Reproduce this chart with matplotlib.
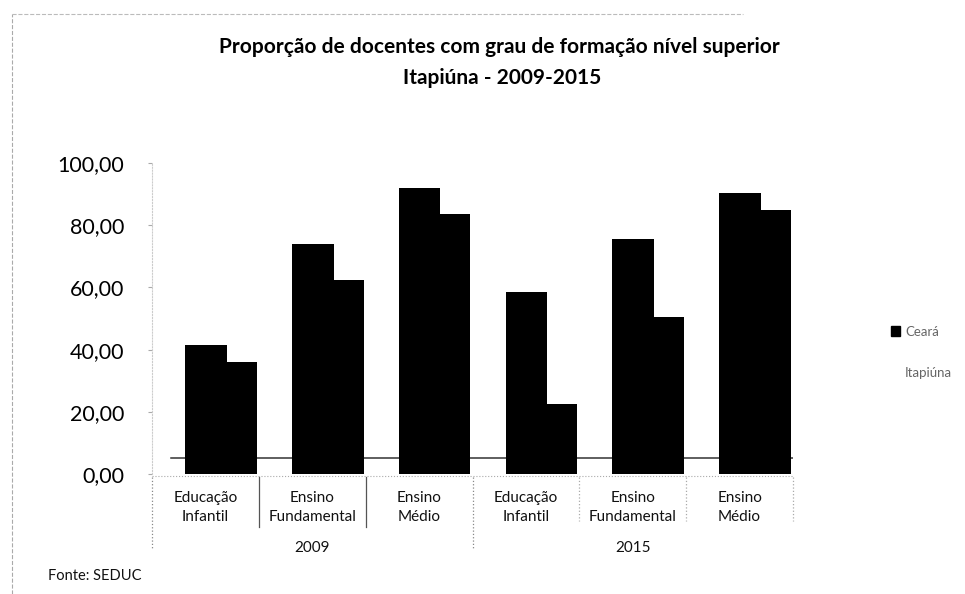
import numpy as np
import matplotlib.pyplot as plt
from matplotlib.patches import Patch

# Data
categorias = ['Educação\nInfantil', 'Ensino\nFundamental', 'Ensino\nMédio',
              'Educação\nInfantil', 'Ensino\nFundamental', 'Ensino\nMédio']
anos = ['2009', '2015']
ceara = [41.5, 74.0, 92.0, 58.5, 75.5, 90.5]
itapiuna = [36.0, 62.5, 83.5, 22.5, 50.5, 85.0]
yticks = [0, 20, 40, 60, 80, 100]

plt.rcParams['font.family'] = ['Lato', 'DejaVu Sans']

fig = plt.figure(figsize=(9.65, 5.94), dpi=100)
ax = fig.add_axes([0.1575, 0.202, 0.6643, 0.5236])

x = np.arange(len(categorias))
ax.bar(x - 0.19, ceara, width=0.39, align='edge', color='black', zorder=3)
ax.bar(x + 0.20, itapiuna, width=0.28, align='edge', color='black', zorder=2)

# floor lines of the (scanned) 3D chart
ax.axhline(5.1, xmin=0.03, color='#333333', lw=1.1, zorder=1)
ax.axhline(-0.7, color='#aaaaaa', lw=0.8, ls=':', zorder=1, clip_on=False)

ax.set_xlim(-0.5, len(categorias) - 0.5)
ax.set_ylim(0, 100)
ax.set_yticks(yticks)
ax.set_yticklabels([f'{v:.2f}'.replace('.', ',') for v in yticks], fontsize=15.5)
ax.tick_params(axis='y', length=3, color='#aaaaaa', pad=17)
ax.set_xticks([])
for s in ['top', 'right', 'bottom']:
    ax.spines[s].set_visible(False)
ax.spines['left'].set_color('#cccccc')
ax.spines['left'].set_linestyle(':')

# category labels, year labels and separators
trans = ax.get_xaxis_transform()
for i, lab in enumerate(categorias):
    ax.text(i, -0.055, lab, transform=trans, ha='center', va='top',
            fontsize=11, color='#111111', linespacing=1.45)
for b in np.arange(-0.5, len(categorias), 1.0):
    if b in (-0.5, 2.5):
        low, ls, col = -0.24, ':', '#888888'
    elif b < 2.5:
        low, ls, col = -0.17, '-', '#555555'
    else:
        low, ls, col = -0.15, ':', '#aaaaaa'
    ax.plot([b, b], [-0.01, low], transform=trans, color=col,
            lw=0.9, ls=ls, clip_on=False)
for k, ano in enumerate(anos):
    ax.text(k * 3 + 1, -0.237, ano, transform=trans, ha='center',
            va='center', fontsize=11, color='#111111')

fig.text(0.518, 0.921, 'Proporção de docentes com grau de formação nível superior',
         ha='center', va='center', fontsize=15, fontweight='bold')
fig.text(0.52, 0.869, 'Itapiúna - 2009-2015',
         ha='center', va='center', fontsize=15, fontweight='bold')

handles = [Patch(facecolor='black', edgecolor='black', label='Ceará'),
           Patch(facecolor='white', edgecolor='white', label='Itapiúna')]
fig.legend(handles=handles, loc='center left', bbox_to_anchor=(0.923, 0.407),
           frameon=False, fontsize=9.5, handlelength=0.7, handleheight=0.7,
           handletextpad=0.4, labelspacing=2.2, borderpad=0, borderaxespad=0,
           labelcolor='#666666')

fig.text(0.05, 0.031, 'Fonte: SEDUC', fontsize=10.5, color='#111111',
         va='center')

# faint border of the scanned chart
fig.add_artist(plt.Line2D([0.012, 0.012], [0.0, 0.976], transform=fig.transFigure,
                          color='#aaaaaa', lw=0.8, ls='--'))
fig.add_artist(plt.Line2D([0.012, 0.77], [0.976, 0.976], transform=fig.transFigure,
                          color='#bbbbbb', lw=0.8, ls='--'))

fig.savefig('out.png', dpi=100)
